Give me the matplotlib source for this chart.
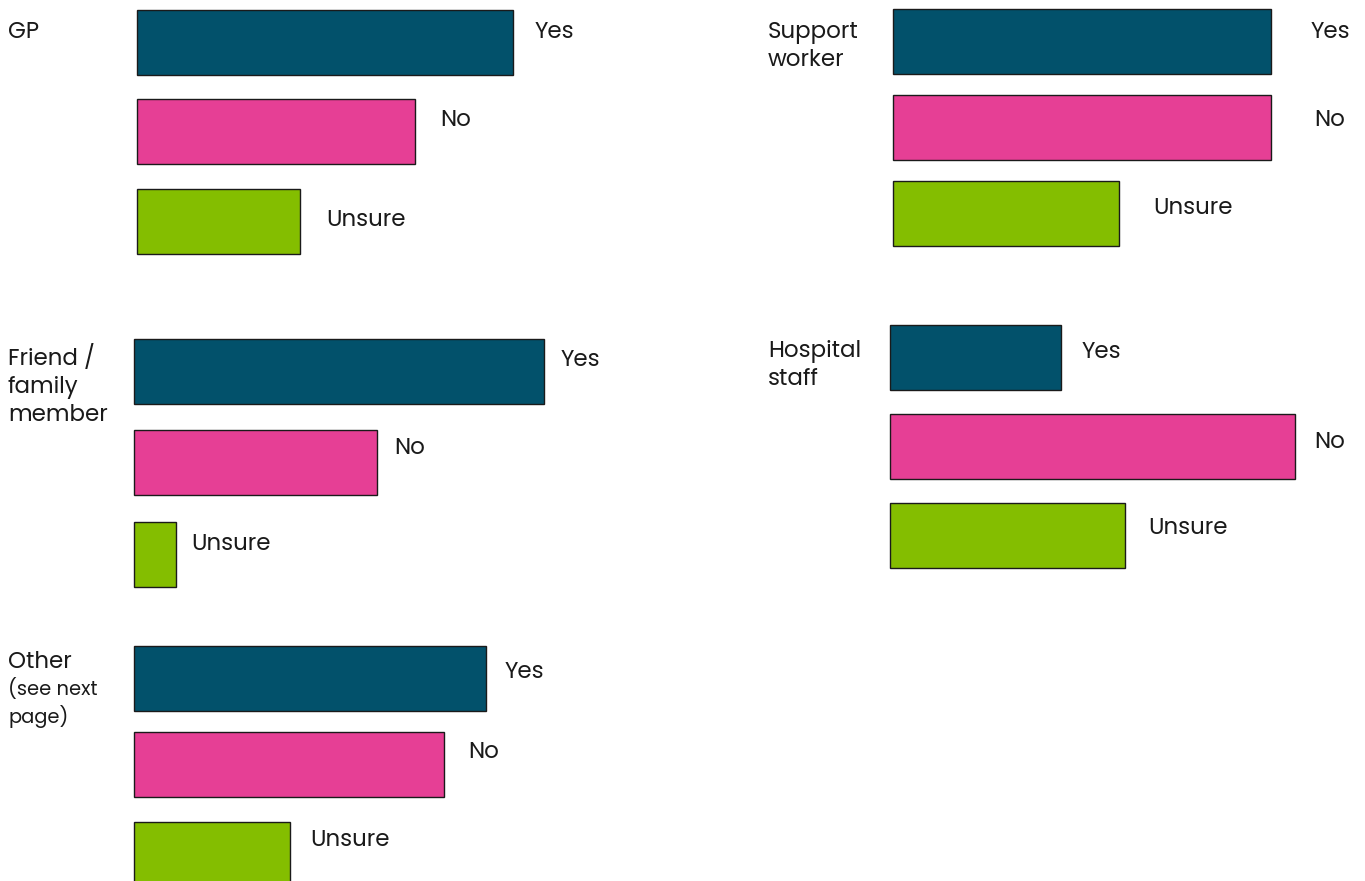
import matplotlib.pyplot as plt

# Survey answers per source of support (bar length)
answers = ['Yes', 'No', 'Unsure']
gp = [376, 278, 163]
friend_family = [410, 243, 42]
other = [352, 310, 156]
support_worker = [378, 378, 226]
hospital_staff = [171, 405, 235]

colors = ['#02516b', '#e63f95', '#84be00']

plt.rcParams['font.family'] = ['Poppins', 'Inter', 'DejaVu Sans']

fig = plt.figure(figsize=(13.65, 8.81), dpi=100)
ax = fig.add_axes([0, 0, 1, 1])
ax.set_xlim(0, 1365)
ax.set_ylim(881, 0)
ax.axis('off')

# layout per panel: values, bar start, bar centres, label gaps, label lifts, title, title position
panels = [
    (gp, 137, [42, 131, 221], [22, 25, 26], [9, 10, 1], 'GP', (8, 32)),
    (friend_family, 134, [371, 462, 554], [17, 17, 15], [11, 13, 10],
     'Friend /\nfamily\nmember', (8, 345)),
    (other, 134, [678, 764, 854], [19, 24, 20], [5, 11, 13], 'Other', (8, 663)),
    (support_worker, 893, [41, 127, 213], [40, 43, 34], [8, 6, 4],
     'Support\nworker', (768, 21)),
    (hospital_staff, 890, [357, 446, 535], [21, 19, 23], [4, 4, 6],
     'Hospital\nstaff', (768, 340)),
]

for values, left, centres, gaps, lifts, title, (tx, ty) in panels:
    ax.barh(centres, values, left=left, height=65, color=colors,
            edgecolor='#1a1a1a', linewidth=1)
    for v, yc, gap, lift, lab in zip(values, centres, gaps, lifts, answers):
        ax.text(left + v + gap, yc - lift, lab, fontsize=16.5, va='center',
                ha='left', color='#1a1a1a')
    va = 'center' if '\n' not in title else 'top'
    ax.text(tx, ty, title, fontsize=16.5, va=va, ha='left', color='#1a1a1a',
            linespacing=1.3)

ax.text(8, 678, '(see next\npage)', fontsize=14, va='top', ha='left',
        color='#1a1a1a', linespacing=1.3)

fig.savefig('out.png', dpi=100)
